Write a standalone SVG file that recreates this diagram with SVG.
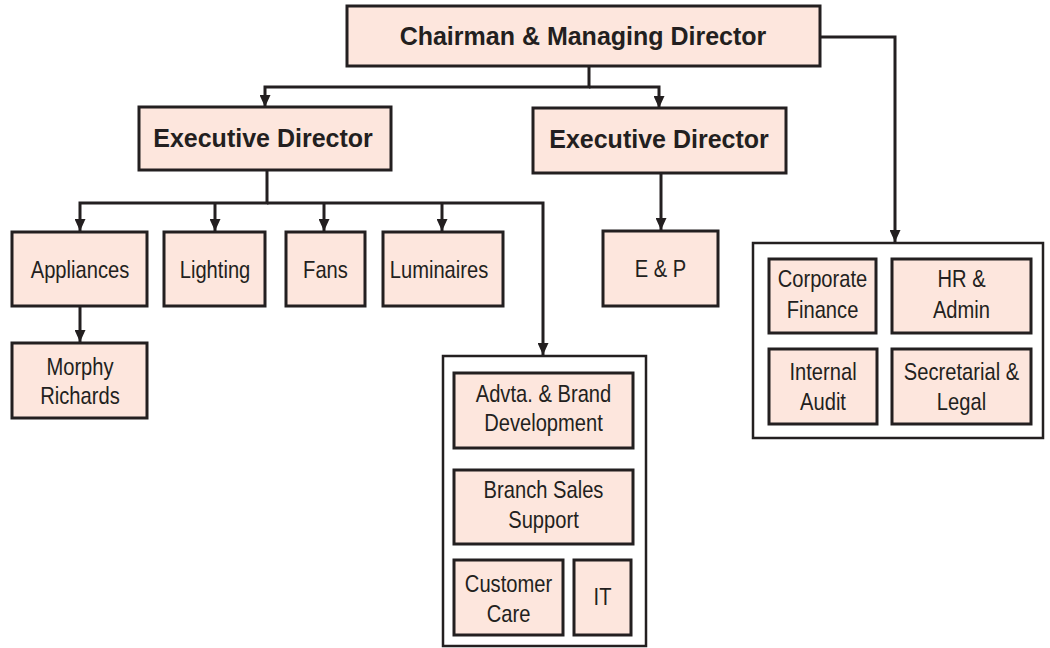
<svg xmlns="http://www.w3.org/2000/svg" width="1050" height="648" viewBox="0 0 1050 648">
<style>
.n{fill:#fde6dd;stroke:#231f20;stroke-width:3}
.c{fill:#fff;stroke:#231f20;stroke-width:2.5}
.b{font-family:"Liberation Sans",Arial,sans-serif;font-weight:bold;font-size:25px;fill:#231f20;text-anchor:middle}
.t{font-family:"Liberation Sans",Arial,sans-serif;font-size:24px;fill:#231f20;text-anchor:middle}
.l{fill:none;stroke:#231f20;stroke-width:3}
</style>
<defs>
<marker id="a" viewBox="0 0 12 11" refX="12" refY="5.5" markerWidth="12" markerHeight="11" markerUnits="userSpaceOnUse" orient="auto"><path d="M0,0 L12,5.5 L0,11 Z" fill="#231f20"/></marker>
</defs>
<g id="connectors">
<path class="l" d="M589,66 V87 H265 V107" marker-end="url(#a)"/>
<path class="l" d="M589,87 H659 V108" marker-end="url(#a)"/>
<path class="l" d="M820,37 H895 V242" marker-end="url(#a)"/>
<path class="l" d="M267,170 V203 H80 V231" marker-end="url(#a)"/>
<path class="l" d="M215,203 V231" marker-end="url(#a)"/>
<path class="l" d="M324,203 V231" marker-end="url(#a)"/>
<path class="l" d="M442,203 V231" marker-end="url(#a)"/>
<path class="l" d="M267,203 H543 V355" marker-end="url(#a)"/>
<path class="l" d="M80,306 V342" marker-end="url(#a)"/>
<path class="l" d="M661,173 V230" marker-end="url(#a)"/>
</g>
<g id="cmd"><rect class="n" x="347" y="6" width="473" height="60"/><text class="b" x="583" y="45">Chairman &amp; Managing Director</text></g>
<g id="ed1"><rect class="n" x="139" y="107" width="252" height="63"/><text class="b" x="263" y="147">Executive Director</text></g>
<g id="ed2"><rect class="n" x="533" y="108" width="253" height="65"/><text class="b" x="659" y="148">Executive Director</text></g>
<g id="appliances"><rect class="n" x="12" y="232" width="135" height="74"/><text class="t" transform="translate(80,278) scale(0.84,1)">Appliances</text></g>
<g id="lighting"><rect class="n" x="164" y="232" width="101" height="74"/><text class="t" transform="translate(215,278) scale(0.84,1)">Lighting</text></g>
<g id="fans"><rect class="n" x="286" y="232" width="79" height="74"/><text class="t" transform="translate(325.5,278) scale(0.84,1)">Fans</text></g>
<g id="luminaires"><rect class="n" x="383" y="232" width="120" height="74"/><text class="t" transform="translate(439,278) scale(0.84,1)">Luminaires</text></g>
<g id="morphy"><rect class="n" x="12" y="343" width="135" height="75"/><text class="t" transform="translate(80,375) scale(0.84,1)">Morphy</text><text class="t" transform="translate(80,404) scale(0.84,1)">Richards</text></g>
<g id="ep"><rect class="n" x="603" y="231" width="115" height="75"/><text class="t" transform="translate(660.5,277) scale(0.84,1)">E &amp; P</text></g>
<g id="support-group">
<rect class="c" x="443" y="356" width="203" height="290"/>
<g id="advta"><rect class="n" x="454" y="373" width="179" height="75"/><text class="t" transform="translate(543.5,402) scale(0.84,1)">Advta. &amp; Brand</text><text class="t" transform="translate(543.5,431) scale(0.84,1)">Development</text></g>
<g id="branch"><rect class="n" x="454" y="470" width="179" height="74"/><text class="t" transform="translate(543.5,498) scale(0.84,1)">Branch Sales</text><text class="t" transform="translate(543.5,528) scale(0.84,1)">Support</text></g>
<g id="customer"><rect class="n" x="454" y="560" width="109" height="75"/><text class="t" transform="translate(508.5,592) scale(0.84,1)">Customer</text><text class="t" transform="translate(508.5,622) scale(0.84,1)">Care</text></g>
<g id="it"><rect class="n" x="574" y="560" width="57" height="75"/><text class="t" transform="translate(602.5,605) scale(0.84,1)">IT</text></g>
</g>
<g id="corporate-group">
<rect class="c" x="753" y="243" width="290" height="195"/>
<g id="finance"><rect class="n" x="769" y="259" width="107" height="74"/><text class="t" transform="translate(822.5,287) scale(0.84,1)">Corporate</text><text class="t" transform="translate(822.5,318) scale(0.84,1)">Finance</text></g>
<g id="hr"><rect class="n" x="892" y="259" width="139" height="74"/><text class="t" transform="translate(961.5,287) scale(0.84,1)">HR &amp;</text><text class="t" transform="translate(961.5,318) scale(0.84,1)">Admin</text></g>
<g id="audit"><rect class="n" x="769" y="349" width="108" height="75"/><text class="t" transform="translate(823,380) scale(0.84,1)">Internal</text><text class="t" transform="translate(823,410) scale(0.84,1)">Audit</text></g>
<g id="legal"><rect class="n" x="892" y="349" width="139" height="75"/><text class="t" transform="translate(961.5,380) scale(0.84,1)">Secretarial &amp;</text><text class="t" transform="translate(961.5,410) scale(0.84,1)">Legal</text></g>
</g>
</svg>
